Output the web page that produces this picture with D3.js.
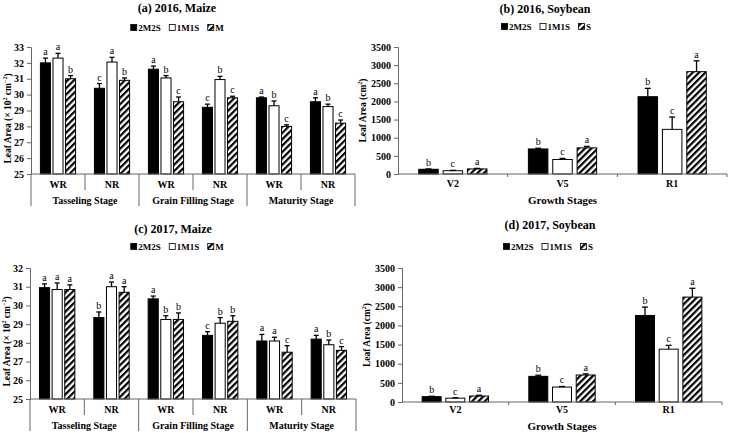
<!DOCTYPE html>
<html><head><meta charset="utf-8">
<script src="https://cdn.jsdelivr.net/npm/d3@7"></script>
<style>
body{margin:0;background:#fff;}
svg{display:block;font-family:"Liberation Serif","Times New Roman",serif;}
</style></head>
<body><svg id="chart" width="729" height="433"></svg>
<script>
// ---------- DATA ----------
const maizeStages = ["Tasseling Stage", "Grain Filling Stage", "Maturity Stage"];
const maizeSubs = ["WR", "NR"];
const maizeSeries = ["2M2S", "1M1S", "M"];
const soySeries = ["2M2S", "1M1S", "S"];
const soyStages = ["V2", "V5", "R1"];

// 2016 maize (× 10² cm²), order: Tass WR, Tass NR, Grain WR, Grain NR, Mat WR, Mat NR
const m16_2M2S = [32.0, 30.4, 31.6, 29.2, 29.8, 29.55];
const m16_1M1S = [32.3, 32.05, 31.05, 30.95, 29.3, 29.25];
const m16_M    = [31.0, 30.9, 29.55, 29.8, 28.0, 28.2];
const m16_err_2M2S = [0.3, 0.3, 0.2, 0.2, 0.05, 0.25];
const m16_err_1M1S = [0.3, 0.3, 0.15, 0.2, 0.3, 0.15];
const m16_err_M    = [0.2, 0.15, 0.3, 0.1, 0.1, 0.2];
const m16_let_2M2S = ["a", "c", "a", "c", "a", "a"];
const m16_let_1M1S = ["a", "a", "b", "b", "b", "b"];
const m16_let_M    = ["b", "b", "c", "c", "c", "c"];

// 2017 maize
const m17_2M2S = [30.95, 29.35, 30.35, 28.4, 28.1, 28.2];
const m17_1M1S = [30.85, 31.0, 29.25, 29.05, 28.1, 27.9];
const m17_M    = [30.85, 30.7, 29.25, 29.15, 27.5, 27.6];
const m17_err_2M2S = [0.2, 0.3, 0.15, 0.2, 0.35, 0.2];
const m17_err_1M1S = [0.35, 0.25, 0.2, 0.3, 0.2, 0.25];
const m17_err_M    = [0.25, 0.3, 0.35, 0.3, 0.35, 0.2];
const m17_let_2M2S = ["a", "b", "a", "c", "a", "a"];
const m17_let_1M1S = ["a", "a", "b", "b", "a", "b"];
const m17_let_M    = ["a", "a", "b", "b", "c", "c"];

// 2016 soybean (cm²): V2, V5, R1
const s16_2M2S = [130, 690, 2130];
const s16_1M1S = [90, 400, 1230];
const s16_S    = [140, 720, 2820];
const s16_err_2M2S = [10, 20, 230];
const s16_err_1M1S = [10, 30, 340];
const s16_err_S    = [15, 40, 300];
const s16_let_2M2S = ["b", "b", "b"];
const s16_let_1M1S = ["c", "c", "c"];
const s16_let_S    = ["a", "a", "a"];

// 2017 soybean
const s17_2M2S = [140, 670, 2260];
const s17_1M1S = [100, 390, 1380];
const s17_S    = [155, 705, 2740];
const s17_err_2M2S = [10, 30, 220];
const s17_err_1M1S = [10, 15, 100];
const s17_err_S    = [20, 30, 230];
const s17_let_2M2S = ["b", "b", "b"];
const s17_let_1M1S = ["c", "c", "c"];
const s17_let_S    = ["a", "a", "a"];

const maizeTicks16 = [25, 26, 27, 28, 29, 30, 31, 32, 33];
const maizeTicks17 = [25, 26, 27, 28, 29, 30, 31, 32];
const soyTicks = [0, 500, 1000, 1500, 2000, 2500, 3000, 3500];

// ---------- DRAW ----------
const svg = d3.select("#chart");
const defs = svg.append("defs");
const pat = defs.append("pattern").attr("id", "hatch").attr("patternUnits", "userSpaceOnUse")
  .attr("width", 4.5).attr("height", 4.5).attr("patternTransform", "rotate(45)");
pat.append("rect").attr("width", 4.5).attr("height", 4.5).attr("fill", "#fff");
pat.append("rect").attr("width", 2.2).attr("height", 4.5).attr("fill", "#000");

const fills = ["#000", "#fff", "url(#hatch)"];

function buildRows(seriesNames, vals, errs, lets) {
  const n = vals[0].length;
  const rows = [];
  for (let i = 0; i < n; i++) {
    seriesNames.forEach((s, k) => rows.push({ g: i, s, k, v: vals[k][i], e: errs[k][i], l: lets[k][i] }));
  }
  return rows;
}

function title(cx, y, text) {
  svg.append("text").attr("x", cx).attr("y", y).attr("text-anchor", "middle")
    .attr("font-size", 12).attr("font-weight", "bold").text(text);
}

function legend(cx, y, names) {
  const g = svg.append("g").attr("font-size", 9).attr("font-weight", "bold");
  let x = 0;
  names.forEach((n, k) => {
    g.append("rect").attr("x", x + 0.5).attr("y", y - 6.5).attr("width", 6).attr("height", 6)
      .attr("fill", fills[k]).attr("stroke", "#000").attr("stroke-width", 0.8);
    const t = g.append("text").attr("x", x + 8).attr("y", y).text(n);
    x += 8 + t.node().getComputedTextLength() + 8;
  });
  x -= 8;
  g.attr("transform", `translate(${cx - x / 2},0)`);
}

function yAxis(x0, yScale, ticks, label, labelX, fmt) {
  const ax = svg.append("g").attr("transform", `translate(${x0},0)`)
    .call(d3.axisLeft(yScale).tickValues(ticks).tickSize(4).tickPadding(3).tickFormat(fmt || d3.format("d")));
  ax.select(".domain").attr("stroke", "#666");
  ax.selectAll(".tick line").attr("stroke", "#666");
  ax.selectAll(".tick text").attr("font-size", 10).attr("font-weight", "bold")
    .attr("font-family", "Liberation Serif, serif").attr("fill", "#000");
  const r = yScale.range();
  const cy = (r[0] + r[1]) / 2;
  return ax;
}

function bars(rows, xOuter, xInner, yScale, capW) {
  const g = svg.append("g");
  const bw = xInner.bandwidth();
  const y0 = yScale.domain()[0];
  rows.forEach(d => {
    const x = xOuter(d.g) + xInner(d.s);
    const yt = yScale(d.v);
    g.append("rect").attr("x", x).attr("y", yt).attr("width", bw).attr("height", yScale(y0) - yt)
      .attr("fill", fills[d.k]).attr("stroke", "#000").attr("stroke-width", 1);
    const ye = yScale(d.v + d.e);
    const cx = x + bw / 2;
    g.append("line").attr("x1", cx).attr("x2", cx).attr("y1", yt).attr("y2", ye).attr("stroke", "#000").attr("stroke-width", 1.3);
    g.append("line").attr("x1", cx - capW / 2).attr("x2", cx + capW / 2).attr("y1", ye).attr("y2", ye).attr("stroke", "#000").attr("stroke-width", 1.3);
    g.append("text").attr("x", cx).attr("y", ye - 3).attr("text-anchor", "middle")
      .attr("font-size", 10).text(d.l);
  });
}

function maizePanel(cfg) {
  const y = d3.scaleLinear().domain(cfg.domain).range([cfg.yBase, cfg.yTop]);
  const groups = d3.range(maizeStages.length * maizeSubs.length);
  const xOuter = d3.scaleBand().domain(groups).range([cfg.x0, cfg.x1]);
  const xInner = d3.scaleBand().domain(maizeSeries).range([0, xOuter.bandwidth()])
    .paddingInner(0.2).paddingOuter(0.75);
  title(cfg.titleX, cfg.titleY, cfg.title);
  legend(cfg.legX, cfg.legY, maizeSeries);
  const ax = yAxis(cfg.x0, y, cfg.ticks);
  const lab = svg.append("text").attr("transform", `translate(${cfg.x0 - 20},${(cfg.yBase + cfg.yTop) / 2 + 8}) rotate(-90)`)
    .attr("text-anchor", "middle").attr("font-size", 9.5).attr("font-weight", "bold");
  lab.append("tspan").text("Leaf Area (× 10");
  lab.append("tspan").attr("font-size", 6).attr("dy", -4).text("2");
  lab.append("tspan").attr("dy", 4).text(" cm");
  lab.append("tspan").attr("font-size", 6).attr("dy", -4).text("−2");
  lab.append("tspan").attr("dy", 4).text(")");
  bars(buildRows(maizeSeries, cfg.vals, cfg.errs, cfg.lets), xOuter, xInner, y, 5);
  // multi-level category axis
  const ga = svg.append("g").attr("stroke", "#666").attr("stroke-width", 1);
  ga.append("line").attr("x1", cfg.x0).attr("x2", cfg.x1).attr("y1", cfg.yBase).attr("y2", cfg.yBase);
  const bwo = xOuter.bandwidth();
  groups.forEach(i => {
    const xl = xOuter(i);
    const long = i % maizeSubs.length === 0;
    ga.append("line").attr("x1", xl).attr("x2", xl).attr("y1", cfg.yBase).attr("y2", cfg.yBase + (long ? 32 : 16));
    svg.append("text").attr("x", xl + bwo / 2).attr("y", cfg.yBase + 14).attr("text-anchor", "middle")
      .attr("font-size", 10).attr("font-weight", "bold").text(maizeSubs[i % maizeSubs.length]);
  });
  ga.append("line").attr("x1", cfg.x1).attr("x2", cfg.x1).attr("y1", cfg.yBase).attr("y2", cfg.yBase + 32);
  maizeStages.forEach((s, j) => {
    const xc = xOuter(j * maizeSubs.length) + bwo * maizeSubs.length / 2;
    svg.append("text").attr("x", xc).attr("y", cfg.yBase + 30).attr("text-anchor", "middle")
      .attr("font-size", 10).attr("font-weight", "bold").text(s);
  });
}

function soyPanel(cfg) {
  const y = d3.scaleLinear().domain([0, 3500]).range([cfg.yBase, cfg.yTop]);
  const groups = d3.range(soyStages.length);
  const xOuter = d3.scaleBand().domain(groups).range([cfg.x0, cfg.x1]);
  const xInner = d3.scaleBand().domain(soySeries).range([0, xOuter.bandwidth()])
    .paddingInner(0.2).paddingOuter(0.85);
  title(cfg.titleX, cfg.titleY, cfg.title);
  legend(cfg.legX, cfg.legY, soySeries);
  yAxis(cfg.x0, y, soyTicks);
  const lab = svg.append("text").attr("transform", `translate(${cfg.x0 - 32},${(cfg.yBase + cfg.yTop) / 2}) rotate(-90)`)
    .attr("text-anchor", "middle").attr("font-size", 9.5).attr("font-weight", "bold");
  lab.append("tspan").text("Leaf Area (cm");
  lab.append("tspan").attr("font-size", 6).attr("dy", -4).text("2");
  lab.append("tspan").attr("dy", 4).text(")");
  bars(buildRows(soySeries, cfg.vals, cfg.errs, cfg.lets), xOuter, xInner, y, 6);
  const ga = svg.append("g").attr("stroke", "#666").attr("stroke-width", 1);
  ga.append("line").attr("x1", cfg.x0).attr("x2", cfg.x1).attr("y1", cfg.yBase).attr("y2", cfg.yBase);
  groups.forEach(i => {
    const xl = xOuter(i);
    if (i > 0) ga.append("line").attr("x1", xl).attr("x2", xl).attr("y1", cfg.yBase).attr("y2", cfg.yBase + 3);
    svg.append("text").attr("x", xl + xOuter.bandwidth() / 2).attr("y", cfg.yBase + cfg.labDy).attr("text-anchor", "middle")
      .attr("font-size", 10).attr("font-weight", "bold").text(soyStages[i]);
  });
  ga.append("line").attr("x1", cfg.x1).attr("x2", cfg.x1).attr("y1", cfg.yBase).attr("y2", cfg.yBase + 3);
  svg.append("text").attr("x", (cfg.x0 + cfg.x1) / 2).attr("y", cfg.yBase + cfg.gsDy).attr("text-anchor", "middle")
    .attr("font-size", 11).attr("font-weight", "bold").text("Growth Stages");
}

maizePanel({ title: "(a) 2016, Maize", titleX: 177, titleY: 12, legX: 177, legY: 31,
  x0: 31, x1: 355, yTop: 47, yBase: 174, domain: [25, 33], ticks: maizeTicks16,
  vals: [m16_2M2S, m16_1M1S, m16_M], errs: [m16_err_2M2S, m16_err_1M1S, m16_err_M],
  lets: [m16_let_2M2S, m16_let_1M1S, m16_let_M] });

maizePanel({ title: "(c) 2017, Maize", titleX: 173, titleY: 233, legX: 177, legY: 250,
  x0: 30, x1: 356, yTop: 268, yBase: 399, domain: [25, 32], ticks: maizeTicks17,
  vals: [m17_2M2S, m17_1M1S, m17_M], errs: [m17_err_2M2S, m17_err_1M1S, m17_err_M],
  lets: [m17_let_2M2S, m17_let_1M1S, m17_let_M] });

soyPanel({ title: "(b) 2016, Soybean", titleX: 545, titleY: 13, legX: 546, legY: 30,
  x0: 398, x1: 727, yTop: 47, yBase: 174, labDy: 13, gsDy: 30,
  vals: [s16_2M2S, s16_1M1S, s16_S], errs: [s16_err_2M2S, s16_err_1M1S, s16_err_S],
  lets: [s16_let_2M2S, s16_let_1M1S, s16_let_S] });

soyPanel({ title: "(d) 2017, Soybean", titleX: 550, titleY: 229, legX: 548, legY: 250,
  x0: 402, x1: 722, yTop: 268, yBase: 402, labDy: 11, gsDy: 28,
  vals: [s17_2M2S, s17_1M1S, s17_S], errs: [s17_err_2M2S, s17_err_1M1S, s17_err_S],
  lets: [s17_let_2M2S, s17_let_1M1S, s17_let_S] });
</script></body></html>
